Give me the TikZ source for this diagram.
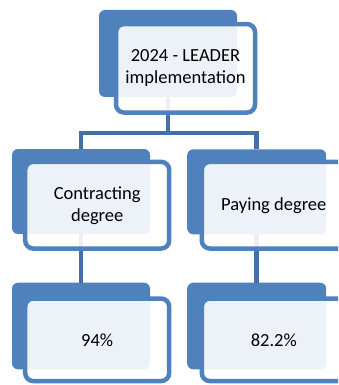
\documentclass[tikz,border=0pt]{standalone}
\usepackage{fontspec}
\setmainfont{Carlito}
\definecolor{accent}{HTML}{4F81BD}
\definecolor{linkblue}{HTML}{4470A6}
\begin{document}
\begin{tikzpicture}[x=1pt,y=-1pt,
  backbox/.style={fill=accent, draw=none, rounded corners=6pt, inner sep=0pt, outer sep=0pt},
  frontbox/.style={draw=accent, line width=4.5pt, fill=white, fill opacity=0.9, text opacity=1,
    rounded corners=8pt, inner sep=0pt, outer sep=0pt, align=center,
    font=\fontsize{18.5}{22}\selectfont},
  link/.style={draw=linkblue, line width=4.8pt}]
\useasboundingbox (0,0) rectangle (338,385);
\clip (0,0) rectangle (338,385);

% back (filled) shapes
\node[backbox, minimum width=138pt, minimum height=87pt] (topB) at (168,53.5) {};
\node[backbox, minimum width=138pt, minimum height=85pt] (leftB) at (81,191.5) {};
\node[backbox, minimum width=139pt, minimum height=85pt] (rightB) at (256.7,191.8) {};
\node[backbox, minimum width=138pt, minimum height=86.6pt] (leftC) at (81,326) {};
\node[backbox, minimum width=139pt, minimum height=86.6pt] (rightC) at (256.7,326) {};

% connectors
\coordinate (bus) at (168,133);
\draw[link] (topB.south) -- (bus);
\draw[link] (leftB.north) -- (leftB.north |- bus) -- (rightB.north |- bus) -- (rightB.north);
\draw[link] (leftB.south) -- (leftC.north);
\draw[link] (rightB.south) -- (rightC.north);

% front (outlined) shapes with the texts
\node[frontbox, minimum width=139pt, minimum height=88.5pt] (topF) at (185.5,68.3)
  {2024 - LEADER\\implementation};
\node[frontbox, minimum width=144pt, minimum height=86.7pt] (leftF) at (97.2,205.2)
  {Contracting\\degree};
\node[frontbox, minimum width=144pt, minimum height=86.7pt] (rightF) at (273.8,205.2)
  {Paying degree};
\node[frontbox, minimum width=144pt, minimum height=82.5pt] (leftG) at (97.2,339.8)
  {94\%};
\node[frontbox, minimum width=144pt, minimum height=82.5pt] (rightG) at (273.8,339.8)
  {82.2\%};
\end{tikzpicture}
\end{document}
